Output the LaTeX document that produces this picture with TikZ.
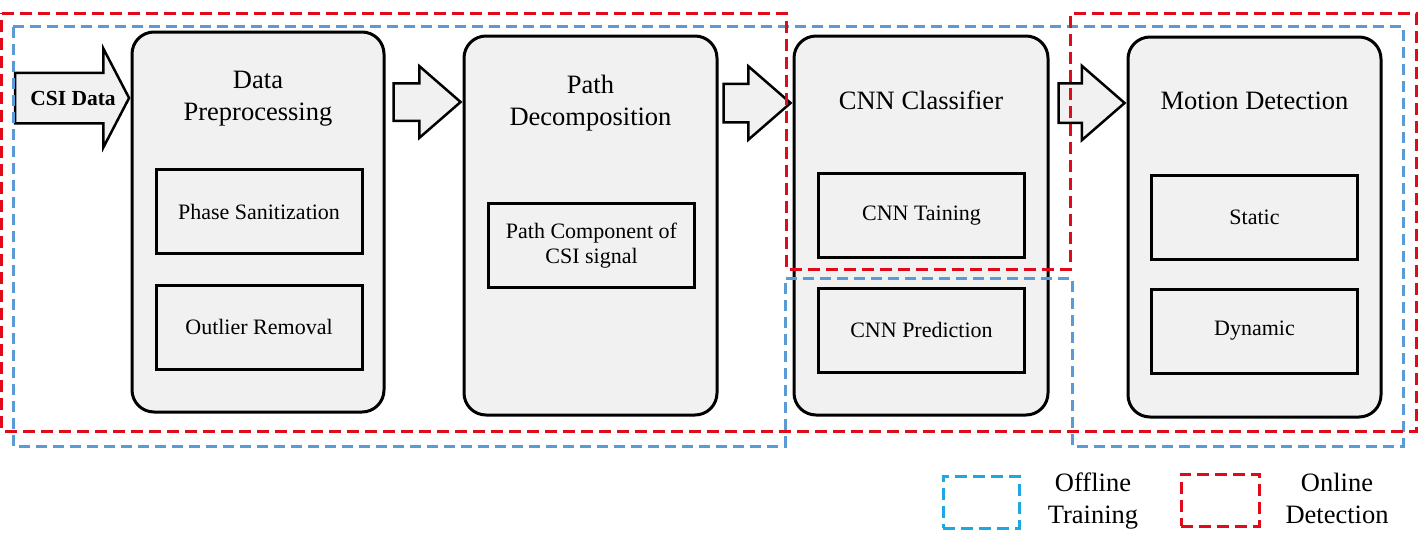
\documentclass[tikz,border=0pt]{standalone}
\usepackage{fontspec}
\setmainfont{Liberation Serif}
\usepackage{xcolor}
\usepackage{tikz}
\usetikzlibrary{shapes,arrows,positioning,calc,arrows.meta}

\definecolor{boxgray}{RGB}{241,241,241}
\definecolor{onred}{RGB}{225,10,25}
\definecolor{offblue}{RGB}{91,155,213}
\definecolor{keyblue}{RGB}{28,168,226}

\tikzset{
    block/.style={draw, line width=3pt, fill=boxgray, rounded corners=22pt, inner sep=0pt},
    subbox/.style={draw, line width=3pt, fill=boxgray, minimum width=206pt, minimum height=84pt,
        align=center, font=\fontsize{22}{25}\selectfont},
    title/.style={align=center, font=\fontsize{26.5}{32}\selectfont},
    fat/.style={single arrow, draw, line width=2.5pt, fill=boxgray, inner xsep=0pt, anchor=tip},
    online/.style={draw=onred, line width=3pt, dash pattern=on 12pt off 6pt},
    offline/.style={draw=offblue, line width=3pt, dash pattern=on 11pt off 6pt},
}

\begin{document}
\begin{tikzpicture}[x=1pt, y=-1pt]
    \useasboundingbox (0,0) rectangle (1425,533);

    % the four stages
    \node[block, minimum width=252pt, minimum height=380pt] (prep) at (258,222) {};
    \node[block, minimum width=253pt, minimum height=379pt] (path) at (590.5,225.5) {};
    \node[block, minimum width=254pt, minimum height=379pt] (cnn) at (921,225.5) {};
    \node[block, minimum width=253pt, minimum height=380pt] (motion) at (1254.5,227) {};

    \node[title] (preptitle) at (258,99) {Data\\Preprocessing};
    \node[title] (pathtitle) at (590.5,103) {Path\\Decomposition};
    \node[title] (cnntitle) at (921,100) {CNN Classifier};
    \node[title] (motiontitle) at (1254.5,101) {Motion Detection};

    % inner steps
    \node[subbox] (phase) at (259,211.5) {Phase Sanitization};
    \node[subbox] (outlier) at (259,327) {Outlier Removal};
    \node[subbox] (comp) at (591.5,245.5) {Path Component of\\CSI signal};
    \node[subbox] (train) at (921.5,215.5) {CNN Taining};
    \node[subbox] (pred) at (921.5,330) {CNN Prediction};
    \node[subbox] (static) at (1254.5,217.5) {Static};
    \node[subbox] (dynamic) at (1254.5,331) {Dynamic};

    % block arrows
    \node[fat, minimum height=114pt, inner ysep=24pt, single arrow head extend=24pt,
        single arrow tip angle=125] (inarr) at (prep.west |- 0,98) {};
    \node[font=\fontsize{21.5}{24}\selectfont\bfseries] (csi) at (73,98.5) {CSI Data};
    \node[fat, minimum height=67pt, inner ysep=17.5pt, single arrow head extend=17pt,
        single arrow tip angle=82] (arr1) at (path.west |- 0,102) {};
    \node[fat, minimum height=67pt, inner ysep=18pt, single arrow head extend=17.5pt,
        single arrow tip angle=82] (arr2) at (cnn.west |- 0,103) {};
    \node[fat, minimum height=66pt, inner ysep=18.5pt, single arrow head extend=17.5pt,
        single arrow tip angle=82] (arr3) at (motion.west |- 0,103) {};

    % dashed regions
    \draw[offline] (13,26) -- (1403,26) -- (1403,446) -- (1072,446) -- (1072,278)
        -- (785,278) -- (785,446) -- (13,446) -- cycle;
    \draw[online] (1.5,13) -- (786,13) -- (786,269) -- (1070,269) -- (1070,13)
        -- (1416,13) -- (1416,431) -- (1.5,431) -- cycle;

    % legend
    \node[draw=keyblue, line width=3pt, dash pattern=on 12pt off 6pt,
        minimum width=76pt, minimum height=52pt] (keyoff) at (981,502) {};
    \node[title] (offtxt) at (1093,501.5) {Offline\\Training};
    \node[online, minimum width=78pt, minimum height=52pt] (keyon) at (1220,500) {};
    \node[title] (ontxt) at (1337,498) {Online\\Detection};
\end{tikzpicture}
\end{document}
